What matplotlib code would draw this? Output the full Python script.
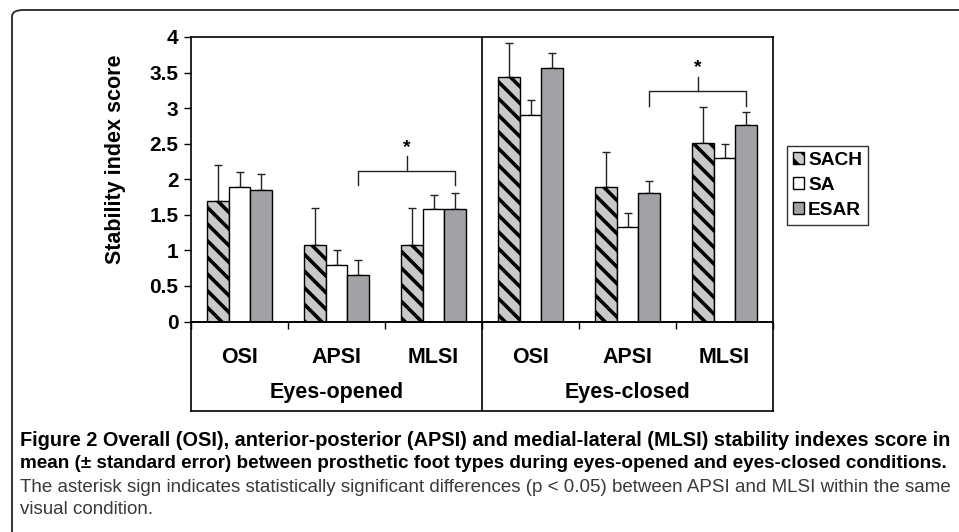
import numpy as np
import matplotlib
matplotlib.use("Agg")
import matplotlib.pyplot as plt
from matplotlib.patches import FancyBboxPatch, Patch

# data
conditions = ["Eyes-opened", "Eyes-closed"]
indexes = ["OSI", "APSI", "MLSI"]
feet = ["SACH", "SA", "ESAR"]

# mean per foot, order: OSI, APSI, MLSI (eyes-opened) then OSI, APSI, MLSI (eyes-closed)
sach = [1.70, 1.08, 1.08, 3.44, 1.89, 2.51]
sa = [1.89, 0.79, 1.58, 2.91, 1.33, 2.30]
esar = [1.855, 0.66, 1.58, 3.57, 1.80, 2.76]
# standard error (upper bars only)
sach_err = [0.50, 0.51, 0.51, 0.47, 0.50, 0.50]
sa_err = [0.21, 0.22, 0.20, 0.20, 0.20, 0.19]
esar_err = [0.215, 0.20, 0.22, 0.21, 0.18, 0.19]

# significance brackets (APSI vs MLSI) per condition: leg bottom, bar height, stem top
bracket_low = [1.915, 3.03]
bracket_mid = [2.11, 3.24]
bracket_top = [2.32, 3.44]

caption1 = "Figure 2 Overall (OSI), anterior-posterior (APSI) and medial-lateral (MLSI) stability indexes score in"
caption2 = "mean (\u00b1 standard error) between prosthetic foot types during eyes-opened and eyes-closed conditions."
caption3 = "The asterisk sign indicates statistically significant differences (p < 0.05) between APSI and MLSI within the same"
caption4 = "visual condition."

plt.rcParams["font.family"] = ["Liberation Sans", "DejaVu Sans"]
plt.rcParams["hatch.linewidth"] = 2.6
plt.rcParams["hatch.color"] = "black"

W, H = 959, 532
fig = plt.figure(figsize=(W / 100, H / 100), dpi=100)

def fx(px):
    return px / W

def fy(py):
    return 1 - py / H

left, right, top, base, bottom = 191, 773, 37, 321.5, 411
ax = fig.add_axes([fx(left), fy(base), fx(right - left), fy(top) - fy(base)])
axb = fig.add_axes([fx(left), fy(bottom), fx(right - left), fy(base) - fy(bottom)])
axb.patch.set_visible(False)

x = np.arange(6) + 0.5
w = 0.224
common = dict(width=w, edgecolor="black", linewidth=1.0, zorder=2)
ax.bar(x - w, sach, color="#c9c9cb", hatch="\\\\", **common)
ax.bar(x, sa, color="white", **common)
ax.bar(x + w, esar, color="#a2a2a6", **common)

eb = dict(fmt="none", ecolor="#222222", elinewidth=1.0, capsize=3.0, capthick=1.0, zorder=1)
ax.errorbar(x - w, sach, yerr=[np.zeros(6), sach_err], **eb)
ax.errorbar(x, sa, yerr=[np.zeros(6), sa_err], **eb)
ax.errorbar(x + w, esar, yerr=[np.zeros(6), esar_err], **eb)

# brackets between APSI and MLSI ESAR bars
for k in range(2):
    xa = x[3 * k + 1] + w
    xb = x[3 * k + 2] + w
    xm = (xa + xb) / 2
    ax.plot([xa, xa, xb, xb], [bracket_low[k], bracket_mid[k], bracket_mid[k], bracket_low[k]],
            color="#222222", lw=1.0)
    ax.plot([xm, xm], [bracket_mid[k], bracket_top[k]], color="#222222", lw=1.0)
    ax.text(xm, bracket_top[k] + 0.01, "*", ha="center", va="bottom",
            fontsize=14, fontweight="bold")

ax.axvline(3, color="black", lw=1.2)
ax.set_xlim(0, 6)
ax.set_ylim(0, 4)
ax.set_yticks(np.arange(0, 4.01, 0.5))
ax.set_yticklabels(["0", "0.5", "1", "1.5", "2", "2.5", "3", "3.5", "4"],
                   fontsize=15, fontweight="bold")
ax.set_xticks([0, 1, 2, 3, 4, 5, 6])
ax.set_xticklabels([])
ax.tick_params(axis="both", direction="out", length=5, width=1.0, color="black")
ax.tick_params(axis="y", pad=4)
for s in ax.spines.values():
    s.set_linewidth(1.2)
ax.set_ylabel("Stability index score", fontsize=15.5, fontweight="bold")
ax.yaxis.set_label_coords(-0.112, 0.57)

# category box under the axis
axb.set_xlim(0, 6)
axb.set_ylim(0, 1)
axb.set_xticks([])
axb.set_yticks([])
axb.axvline(3, color="black", lw=1.2)
for s in axb.spines.values():
    s.set_linewidth(1.2)
for i in range(6):
    axb.text(x[i], 0.60, indexes[i % 3], ha="center", va="center",
             fontsize=15.5, fontweight="bold")
for k in range(2):
    axb.text(1.5 + 3 * k, 0.21, conditions[k], ha="center", va="center",
             fontsize=15.5, fontweight="bold")

handles = [Patch(facecolor="#c9c9cb", edgecolor="black", hatch="\\\\", lw=1.0),
           Patch(facecolor="white", edgecolor="black", lw=1.0),
           Patch(facecolor="#a2a2a6", edgecolor="black", lw=1.0)]
leg = fig.legend(handles, feet, loc="upper left",
                 bbox_to_anchor=(fx(787), fy(146)), frameon=True, fancybox=False,
                 edgecolor="black", prop={"weight": "bold", "size": 13.8},
                 handlelength=0.6, handleheight=0.6, handletextpad=0.2,
                 labelspacing=0.42, borderpad=0.3, borderaxespad=0)
leg.get_frame().set_linewidth(1.0)

# outer frame with rounded top-left corner
frame = FancyBboxPatch((fx(12), fy(600)), fx(1100), fy(10) - fy(600),
                       boxstyle="round,pad=0,rounding_size=0.012",
                       transform=fig.transFigure, facecolor="none",
                       edgecolor="#333333", lw=1.4, clip_on=False)
fig.patches.append(frame)

# caption, each line scaled to the width it has in the reference
renderer = fig.canvas.get_renderer()

def fit(t, target):
    t.set_fontsize(t.get_fontsize() * target / t.get_window_extent(renderer).width)

cap_font = ["Liberation Sans", "DejaVu Sans"]
t1 = fig.text(fx(20), fy(441), caption1, fontsize=11, fontweight="bold",
              family=cap_font, va="center", color="black")
t2 = fig.text(fx(20), fy(464), caption2, fontsize=11, fontweight="bold",
              family=cap_font, va="center", color="black")
t3 = fig.text(fx(20), fy(487), caption3, fontsize=11,
              family=cap_font, va="center", color="#3a3a3a")
t4 = fig.text(fx(20), fy(509), caption4, fontsize=11,
              family=cap_font, va="center", color="#3a3a3a")
fit(t1, 930)
fit(t2, 932)
fit(t3, 933)
t4.set_fontsize(t3.get_fontsize())

fig.savefig("out.png", dpi=100)
